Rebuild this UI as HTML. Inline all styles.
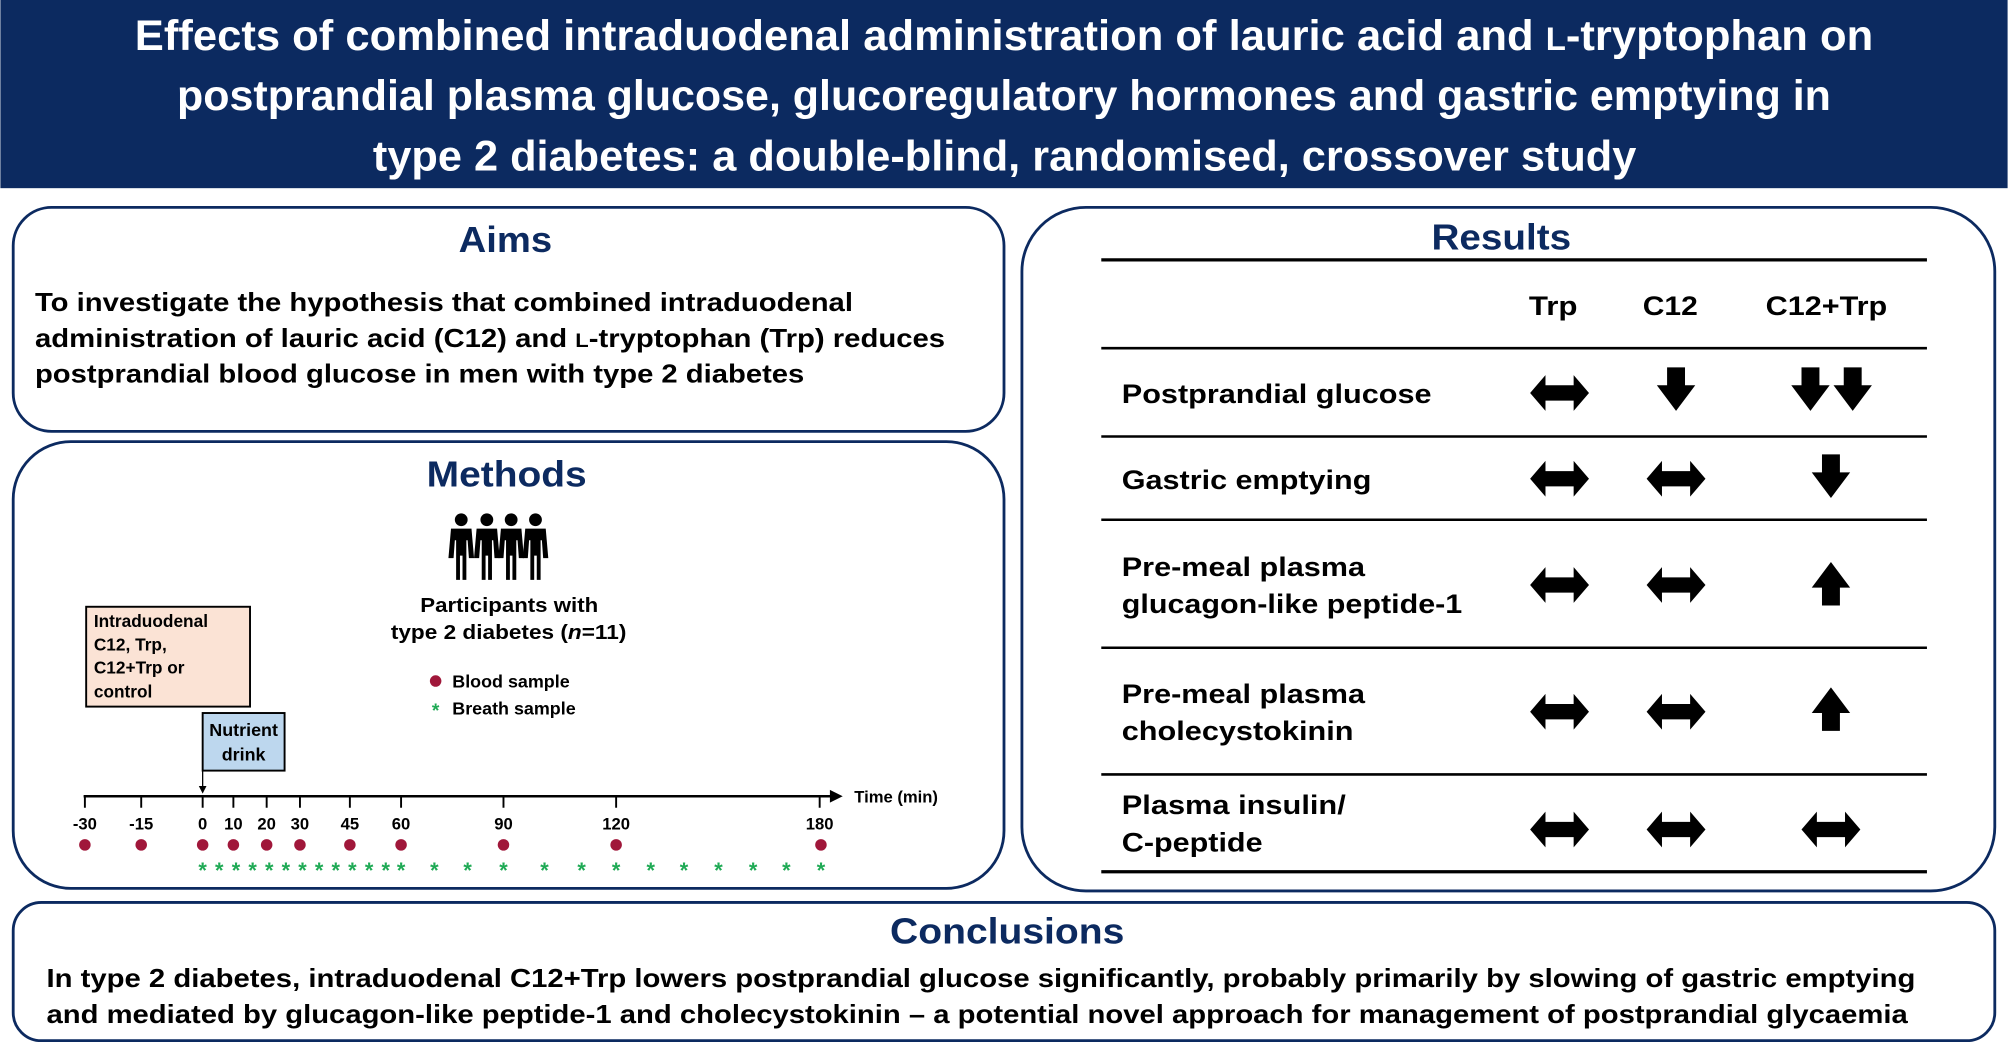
<!DOCTYPE html>
<html><head><meta charset="utf-8"><style>
html,body{margin:0;padding:0;background:#fff;}
svg{display:block;}
text{font-family:"Liberation Sans",sans-serif;font-weight:bold;}
</style></head><body>
<svg width="2008" height="1042" viewBox="0 0 1568 814" xmlns="http://www.w3.org/2000/svg">
<defs>
<polygon id="dbl" points="-23,0 -11,-14 -11,-6 11,-6 11,-14 23,0 11,14 11,6 -11,6 -11,14" fill="#000"/>
<polygon id="dn" points="-7,-17 7,-17 7,-3 15,-3 0,17 -15,-3 -7,-3" fill="#000"/>
<polygon id="up" points="-7,17 7,17 7,3 15,3 0,-17 -15,3 -7,3" fill="#000"/>
<g id="person">
<circle cx="0" cy="-20" r="5" fill="#000"/>
<path d="M-8,-13 L8,-13 L10,10 L6,10 L5,-4 L4,-4 L4,27 L1,27 L1,8 L-1,8 L-1,27 L-4,27 L-4,-4 L-5,-4 L-6,10 L-10,10 Z" fill="#000"/>
</g>
</defs>
<rect x="0" y="0" width="1568" height="147" fill="#0c2a60"/>
<g fill="#fff" font-size="33" lengthAdjust="spacingAndGlyphs">
<text x="105" y="39" textLength="1358" lengthAdjust="spacingAndGlyphs">Effects of combined intraduodenal administration of lauric acid and <tspan font-size="25">L</tspan>-tryptophan on</text>
<text x="138" y="86" textLength="1292" lengthAdjust="spacingAndGlyphs">postprandial plasma glucose, glucoregulatory hormones and gastric emptying in</text>
<text x="291" y="133" textLength="987" lengthAdjust="spacingAndGlyphs">type 2 diabetes: a double-blind, randomised, crossover study</text>
</g>
<g fill="none" stroke="#0c2a60" stroke-width="2.2">
<rect x="10" y="162" width="774" height="175" rx="30"/>
<rect x="10" y="345" width="774" height="349" rx="45"/>
<rect x="798" y="162" width="760" height="534" rx="50"/>
<rect x="10" y="705" width="1548" height="108" rx="22"/>
</g>
<g fill="#0c2a60" font-size="28">
<text x="358" y="197" textLength="73" lengthAdjust="spacingAndGlyphs">Aims</text>
<text x="333" y="380" textLength="125" lengthAdjust="spacingAndGlyphs">Methods</text>
<text x="1118" y="195" textLength="109" lengthAdjust="spacingAndGlyphs">Results</text>
<text x="695" y="737" textLength="183" lengthAdjust="spacingAndGlyphs">Conclusions</text>
</g>
<g font-size="20">
<text x="27" y="243" textLength="639" lengthAdjust="spacingAndGlyphs">To investigate the hypothesis that combined intraduodenal</text>
<text x="27" y="271" textLength="711" lengthAdjust="spacingAndGlyphs">administration of lauric acid (C12) and <tspan font-size="15">L</tspan>-tryptophan (Trp) reduces</text>
<text x="27" y="299" textLength="601" lengthAdjust="spacingAndGlyphs">postprandial blood glucose in men with type 2 diabetes</text>
<text x="36" y="771" textLength="1460" lengthAdjust="spacingAndGlyphs">In type 2 diabetes, intraduodenal C12+Trp lowers postprandial glucose significantly, probably primarily by slowing of gastric emptying</text>
<text x="36" y="799" textLength="1454" lengthAdjust="spacingAndGlyphs">and mediated by glucagon-like peptide-1 and cholecystokinin – a potential novel approach for management of postprandial glycaemia</text>
</g>
<g stroke="#000">
<line x1="860" y1="203" x2="1505" y2="203" stroke-width="2.5"/>
<line x1="860" y1="272" x2="1505" y2="272" stroke-width="2"/>
<line x1="860" y1="341" x2="1505" y2="341" stroke-width="2"/>
<line x1="860" y1="406" x2="1505" y2="406" stroke-width="2"/>
<line x1="860" y1="506" x2="1505" y2="506" stroke-width="2"/>
<line x1="860" y1="605" x2="1505" y2="605" stroke-width="2"/>
<line x1="860" y1="681" x2="1505" y2="681" stroke-width="2.5"/>
</g>
<g font-size="21">
<text x="1194" y="246" textLength="38" lengthAdjust="spacingAndGlyphs">Trp</text>
<text x="1283" y="246" textLength="43" lengthAdjust="spacingAndGlyphs">C12</text>
<text x="1379" y="246" textLength="95" lengthAdjust="spacingAndGlyphs">C12+Trp</text>
</g>
<g font-size="21">
<text x="876" y="315" textLength="242" lengthAdjust="spacingAndGlyphs">Postprandial glucose</text>
<text x="876" y="382" textLength="195" lengthAdjust="spacingAndGlyphs">Gastric emptying</text>
<text x="876" y="450" textLength="190" lengthAdjust="spacingAndGlyphs">Pre-meal plasma</text>
<text x="876" y="479" textLength="266" lengthAdjust="spacingAndGlyphs">glucagon-like peptide-1</text>
<text x="876" y="549" textLength="190" lengthAdjust="spacingAndGlyphs">Pre-meal plasma</text>
<text x="876" y="578" textLength="181" lengthAdjust="spacingAndGlyphs">cholecystokinin</text>
<text x="876" y="636" textLength="175" lengthAdjust="spacingAndGlyphs">Plasma insulin/</text>
<text x="876" y="665" textLength="110" lengthAdjust="spacingAndGlyphs">C-peptide</text>
</g>
<use href="#dbl" x="1218" y="307"/><use href="#dn" x="1309" y="304"/><use href="#dn" x="1414" y="304"/><use href="#dn" x="1447" y="304"/>
<use href="#dbl" x="1218" y="374"/><use href="#dbl" x="1309" y="374"/><use href="#dn" x="1430" y="372"/>
<use href="#dbl" x="1218" y="457"/><use href="#dbl" x="1309" y="457"/><use href="#up" x="1430" y="456"/>
<use href="#dbl" x="1218" y="556"/><use href="#dbl" x="1309" y="556"/><use href="#up" x="1430" y="554"/>
<use href="#dbl" x="1218" y="648"/><use href="#dbl" x="1309" y="648"/><use href="#dbl" x="1430" y="648"/>
<use href="#person" x="360" y="426"/><use href="#person" x="380" y="426"/><use href="#person" x="399" y="426"/><use href="#person" x="418" y="426"/>
<g font-size="16">
<text x="328" y="478" textLength="139" lengthAdjust="spacingAndGlyphs">Participants with</text>
<text x="305" y="499" textLength="184" lengthAdjust="spacingAndGlyphs">type 2 diabetes (<tspan font-style="italic">n</tspan>=11)</text>
</g>
<circle cx="340" cy="532" r="4.5" fill="#a0173a"/>
<text x="353" y="537" font-size="14">Blood sample</text>
<text x="340" y="560" font-size="15" fill="#1faa55" text-anchor="middle">*</text>
<text x="353" y="558" font-size="14">Breath sample</text>
<rect x="67" y="474" width="128" height="78" fill="#fbe3d5" stroke="#000" stroke-width="1.5"/>
<g font-size="13.5">
<text x="73" y="490">Intraduodenal</text><text x="73" y="508">C12, Trp,</text><text x="73" y="526">C12+Trp or</text><text x="73" y="545">control</text>
</g>
<rect x="158" y="557" width="64" height="45" fill="#bdd7ee" stroke="#000" stroke-width="1.5"/>
<g font-size="14" text-anchor="middle"><text x="190" y="575">Nutrient</text><text x="190" y="594">drink</text></g>
<line x1="158" y1="602" x2="158" y2="615" stroke="#000" stroke-width="1"/>
<polygon points="155,614 161,614 158,620" fill="#000"/>
<line x1="65" y1="622" x2="650" y2="622" stroke="#000" stroke-width="2"/>
<polygon points="648,617 658,622 648,627" fill="#000"/>
<text x="667" y="627" font-size="13">Time (min)</text>
<g stroke="#000" stroke-width="1.5">
<line x1="66" y1="622" x2="66" y2="631"/><line x1="110" y1="622" x2="110" y2="631"/><line x1="158" y1="622" x2="158" y2="631"/><line x1="182" y1="622" x2="182" y2="631"/><line x1="208" y1="622" x2="208" y2="631"/><line x1="234" y1="622" x2="234" y2="631"/><line x1="273" y1="622" x2="273" y2="631"/><line x1="313" y1="622" x2="313" y2="631"/><line x1="393" y1="622" x2="393" y2="631"/><line x1="481" y1="622" x2="481" y2="631"/><line x1="640" y1="622" x2="640" y2="631"/>
</g>
<g font-size="13" text-anchor="middle">
<text x="66" y="648">-30</text><text x="110" y="648">-15</text><text x="158" y="648">0</text><text x="182" y="648">10</text><text x="208" y="648">20</text><text x="234" y="648">30</text><text x="273" y="648">45</text><text x="313" y="648">60</text><text x="393" y="648">90</text><text x="481" y="648">120</text><text x="640" y="648">180</text>
</g>
<g fill="#a0173a">
<circle cx="66" cy="660" r="4.5"/><circle cx="110" cy="660" r="4.5"/><circle cx="158" cy="660" r="4.5"/><circle cx="182" cy="660" r="4.5"/><circle cx="208" cy="660" r="4.5"/><circle cx="234" cy="660" r="4.5"/><circle cx="273" cy="660" r="4.5"/><circle cx="313" cy="660" r="4.5"/><circle cx="393" cy="660" r="4.5"/><circle cx="481" cy="660" r="4.5"/><circle cx="641" cy="660" r="4.5"/>
</g>
<g fill="#1faa55" font-size="17" text-anchor="middle">
<text x="158" y="686">*</text><text x="171" y="686">*</text><text x="184" y="686">*</text><text x="197" y="686">*</text><text x="210" y="686">*</text><text x="223" y="686">*</text><text x="236" y="686">*</text><text x="249" y="686">*</text><text x="262" y="686">*</text><text x="275" y="686">*</text><text x="288" y="686">*</text><text x="301" y="686">*</text><text x="313" y="686">*</text>
<text x="339" y="686">*</text><text x="365" y="686">*</text><text x="393" y="686">*</text><text x="425" y="686">*</text><text x="454" y="686">*</text><text x="481" y="686">*</text><text x="508" y="686">*</text><text x="534" y="686">*</text><text x="561" y="686">*</text><text x="588" y="686">*</text><text x="614" y="686">*</text><text x="641" y="686">*</text>
</g>
</svg>
</body></html>
